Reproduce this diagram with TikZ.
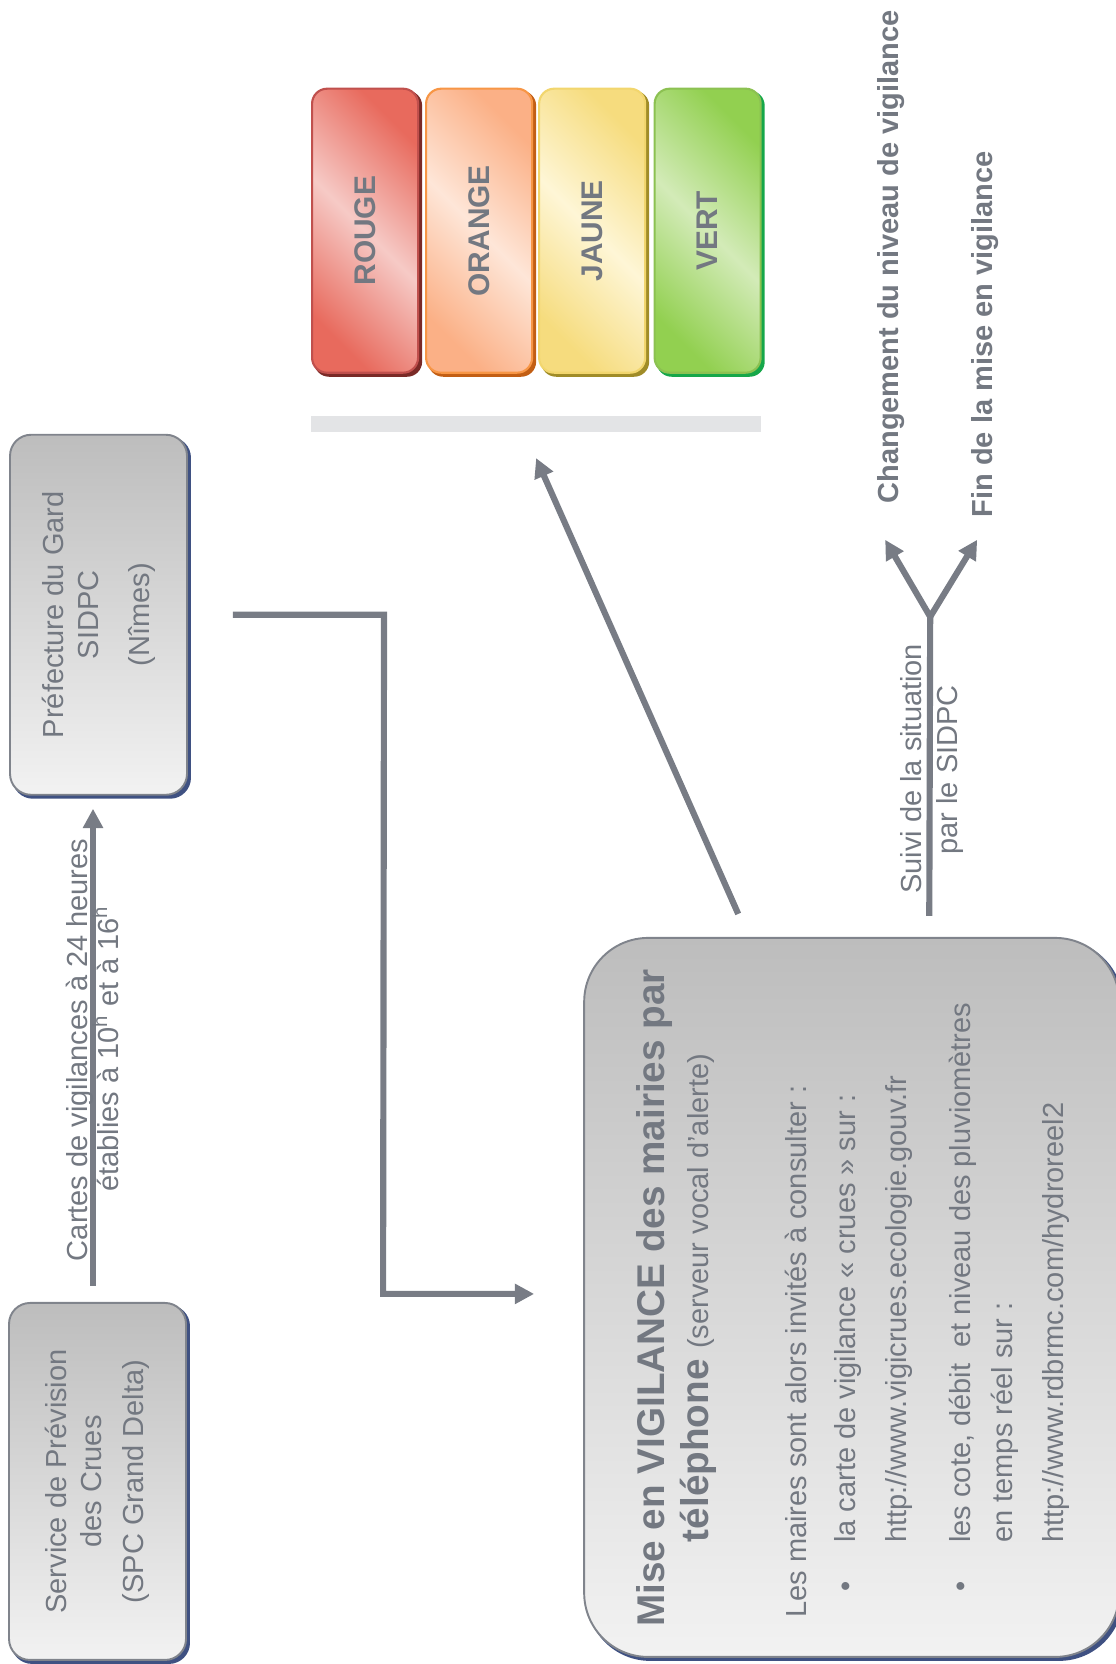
\documentclass[tikz,border=0pt]{standalone}
\usepackage{fontspec}
\setmainfont{Liberation Sans}
\usetikzlibrary{arrows.meta,calc,backgrounds}

\definecolor{texte}{HTML}{737881}
\definecolor{trait}{HTML}{787C85}
\definecolor{boitebord}{HTML}{80848C}
\definecolor{boiteclair}{HTML}{F2F2F2}
\definecolor{boitefonce}{HTML}{BDBDBD}
\definecolor{ombre}{HTML}{3F5182}
\definecolor{barre}{HTML}{E3E4E6}
\definecolor{rougebord}{HTML}{C0504D}
\definecolor{rougefonce}{HTML}{E86A5D}
\definecolor{rougeclair}{HTML}{F6CAC6}
\definecolor{rougeombre}{HTML}{7A2A27}
\definecolor{orangebord}{HTML}{F79646}
\definecolor{orangefonce}{HTML}{FBB086}
\definecolor{orangeclair}{HTML}{FEE6D8}
\definecolor{orangeombre}{HTML}{C25E14}
\definecolor{jaunebord}{HTML}{F2D66E}
\definecolor{jaunefonce}{HTML}{F6DC7E}
\definecolor{jauneclair}{HTML}{FEF6D6}
\definecolor{jauneombre}{HTML}{A08C28}
\definecolor{vertbord}{HTML}{8CC152}
\definecolor{vertfonce}{HTML}{92D050}
\definecolor{vertclair}{HTML}{D3EBB8}
\definecolor{vertombre}{HTML}{16A74A}

\begin{document}
\begin{tikzpicture}[> = {Triangle[length=11pt, width=11pt]}]
    \useasboundingbox (0,0) rectangle (22.3,33.28);
    \begin{scope}[rotate=90, transform shape, x=0.02cm, y=-0.02cm]
    % Styles
    \tikzstyle{boite}=[rectangle, rounded corners=0.42cm, draw=boitebord, line width=1.1pt, top color=boitefonce, bottom color=boiteclair, text=texte, align=center, inner sep=0pt, font=\fontsize{16.5}{20}\selectfont]
    \tikzstyle{niveau}=[rectangle, rounded corners=0.3cm, line width=1.2pt, minimum width=5.68cm, minimum height=2.12cm, text=texte, font=\bfseries\fontsize{17}{20}\selectfont]
    \tikzstyle{ligne}=[text=texte, inner sep=0pt, font=\fontsize{16.5}{20}\selectfont]
    \tikzstyle{gras}=[text=texte, inner sep=0pt, font=\bfseries\fontsize{16.5}{20}\selectfont]
    \tikzstyle{fleche}=[->, draw=trait, line width=3.5pt]

    % Boîtes
    \node[boite, minimum width=7.14cm, minimum height=3.54cm] (spc) at (182.5,97.5) {Service de Prévision\\des Crues\\[4pt](SPC Grand Delta)};
    \node[boite, minimum width=7.2cm, minimum height=3.54cm] (pref) at (1049,98.5) {Préfecture du Gard\\SIDPC\\[9pt](Nîmes)};
    \node[boite, rounded corners=1.28cm, minimum width=14.38cm, minimum height=10.7cm] (mise) at (366.5,851.5) {};

    % Niveaux de vigilance
    \node[niveau, draw=rougebord, left color=rougefonce, right color=rougefonce, middle color=rougeclair, shading angle=-45] (rouge) at (1433,365) {ROUGE};
    \node[niveau, draw=orangebord, left color=orangefonce, right color=orangefonce, middle color=orangeclair, shading angle=-45] (orange) at (1433,479) {ORANGE};
    \node[niveau, draw=jaunebord, left color=jaunefonce, right color=jaunefonce, middle color=jauneclair, shading angle=-45] (jaune) at (1433,592) {JAUNE};
    \node[niveau, draw=vertbord, left color=vertfonce, right color=vertfonce, middle color=vertclair, shading angle=-45] (vert) at (1433,707.5) {VERT};
    \node[fill=barre, inner sep=0pt, minimum width=0.32cm, minimum height=9cm] (bar) at (1240,536) {};

    % Ombres
    \begin{pgfonlayer}{background}
    \foreach \n/\c/\r in {spc/ombre/0.42cm, pref/ombre/0.42cm, mise/ombre/1.28cm, rouge/rougeombre/0.3cm, orange/orangeombre/0.3cm, jaune/jauneombre/0.3cm, vert/vertombre/0.3cm}
        \fill[\c, rounded corners=\r] ($(\n.south west)+(-3,3)$) rectangle ($(\n.north east)+(-3,3)$);
    \end{pgfonlayer}

    % Texte de la boîte de mise en vigilance
    \node[gras, anchor=base, font=\bfseries\fontsize{22}{26}\selectfont] (titre1) at (366,664) {Mise en VIGILANCE des mairies par};
    \node[gras, anchor=base, font=\bfseries\fontsize{22}{26}\selectfont] (titre2) at (366,708) {téléphone {\mdseries\fontsize{16.5}{20}\selectfont (serveur vocal d'alerte)}};
    \node[ligne, anchor=base west] (l1) at (46,806) {Les maires sont alors invités à consulter :};
    \node[ligne, anchor=base west] (p1) at (72,855) {\textbullet};
    \node[ligne, anchor=base west] (l2) at (121,855) {la carte de vigilance « crues » sur :};
    \node[ligne, anchor=base west] (l3) at (121,906) {http://www.vigicrues.ecologie.gouv.fr};
    \node[ligne, anchor=base west] (p2) at (72,970) {\textbullet};
    \node[ligne, anchor=base west] (l4) at (121,970) {les cote, débit~ et niveau des pluviomètres};
    \node[ligne, anchor=base west] (l5) at (121,1012) {en temps réel sur :};
    \node[ligne, anchor=base west] (l6) at (121,1063) {http://www.rdbrmc.com/hydroreel2};

    % Flèches
    \coordinate (coude) at (370,383);
    \coordinate (fourche) at (1047,930);
    \coordinate (versA) at (1124,885);
    \coordinate (versB) at (1124,977);
    \draw[fleche] ($(spc.east)+(16,-4.5)$) -- ($(pref.west)+(-13,-5.5)$);
    \draw[fleche] ($(pref.south)+(0,45)$) -- ++(0,151) -- (coude) -- ++(0,151);
    \draw[fleche] ($(mise.north east)+(23,155)$) -- ($(bar.west)+(-26,0)$);
    \draw[fleche, -] ($(mise.north east)+(21,346)$) -- (fourche);
    \draw[fleche, <->] (versA) -- (fourche) -- (versB);

    % Annotations
    \node[ligne, anchor=base] (cartes) at (614,87) {Cartes de vigilances à 24 heures};
    \node[ligne, anchor=base] (heures) at (615,118) {établies à 10\textsuperscript{h} et à 16\textsuperscript{h}};
    \node[ligne, anchor=base] (suivi) at (895,921) {Suivi de la situation};
    \node[ligne, anchor=base] (sidpc) at (894,957) {par le SIDPC};
    \node[gras, anchor=base west] (chg) at (1160,898) {Changement du niveau de vigilance};
    \node[gras, anchor=base west] (fin) at (1146,992) {Fin de la mise en vigilance};
    \end{scope}
\end{tikzpicture}
\end{document}
